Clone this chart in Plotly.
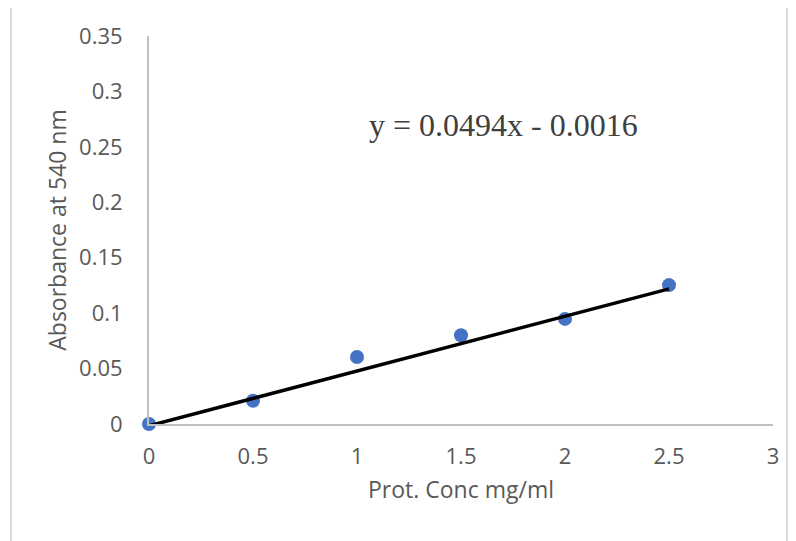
import plotly.graph_objects as go

# Data
conc = [0, 0.5, 1.0, 1.5, 2.0, 2.5]
absorbance = [0.0, 0.021, 0.0605, 0.080, 0.0948, 0.1253]
slope = 0.0494
intercept = -0.0016
x_ticks = [0, 0.5, 1, 1.5, 2, 2.5, 3]
x_tick_labels = ["0", "0.5", "1", "1.5", "2", "2.5", "3"]
y_ticks = [0, 0.05, 0.1, 0.15, 0.2, 0.25, 0.3, 0.35]
y_tick_labels = ["0", "0.05", "0.1", "0.15", "0.2", "0.25", "0.3", "0.35"]
equation = "y = 0.0494x - 0.0016"

trend_x = [min(conc), max(conc)]
trend_y = [slope * v + intercept for v in trend_x]

OFF = 8  # page body margin
W, H = 796 - OFF, 541 - OFF
ML, MR, MT, MB = 149 - OFF, 23, 36 - OFF, 117
pw, ph = W - ML - MR, H - MT - MB

def px2paper_x(px):
    return (px - OFF - ML) / pw

def px2paper_y(py):
    return (H - MB - (py - OFF)) / ph

fig = go.Figure()
fig.add_trace(go.Scatter(
    x=conc, y=absorbance, mode="markers",
    marker=dict(color="#4472C4", size=14, line=dict(width=0)),
    showlegend=False, cliponaxis=False,
))
fig.add_trace(go.Scatter(
    x=trend_x, y=trend_y, mode="lines",
    line=dict(color="#000000", width=3.5),
    showlegend=False, cliponaxis=False,
))

fig.add_annotation(
    x=1.702, y=0.2697, xref="x", yref="y", text=equation, showarrow=False,
    font=dict(family="Liberation Serif", size=32, color="#404040"),
)

fig.add_shape(
    type="rect", xref="paper", yref="paper",
    x0=px2paper_x(11), x1=px2paper_x(787), y0=px2paper_y(5), y1=px2paper_y(560),
    line=dict(color="#d9d9d9", width=2), fillcolor="rgba(0,0,0,0)", layer="below",
)

tick_font = dict(family="Open Sans", size=22, color="#595959")
title_font = dict(family="Open Sans", size=23, color="#595959")
fig.update_layout(
    width=W, height=H,
    margin=dict(l=ML, r=MR, t=MT, b=MB, pad=0),
    paper_bgcolor="white", plot_bgcolor="white",
    xaxis=dict(
        range=[0, 3], tickvals=x_ticks, ticktext=x_tick_labels,
        showgrid=False, zeroline=False, showline=True, linecolor="#bfbfbf", linewidth=2,
        ticks="", tickfont=tick_font, ticklabelstandoff=12,
        title=dict(text="Prot. Conc mg/ml", font=title_font, standoff=12),
    ),
    yaxis=dict(
        range=[0, 0.35], tickvals=y_ticks, ticktext=y_tick_labels,
        showgrid=False, zeroline=False, showline=True, linecolor="#bfbfbf", linewidth=2,
        ticks="", tickfont=tick_font, ticklabelstandoff=20,
        title=dict(text="Absorbance at 540 nm", font=title_font, standoff=6),
    ),
)

fig.write_html("out.html")
